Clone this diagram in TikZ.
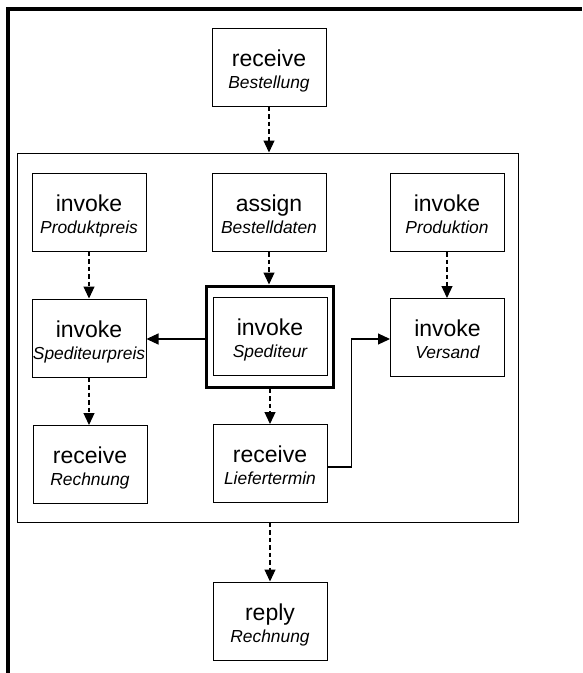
\documentclass[tikz,border=0pt]{standalone}
\usepackage{fontspec}
\setmainfont{Liberation Sans}
\usetikzlibrary{arrows.meta,calc}
\tikzset{
  pbox/.style={draw, line width=1pt, minimum width=114pt, minimum height=78pt, inner sep=0pt},
  maintxt/.style={anchor=base, inner sep=0pt, font=\fontsize{23}{26}\selectfont},
  subtxt/.style={anchor=base, inner sep=0pt, font=\fontsize{17.4}{20}\selectfont\itshape},
  thickbox/.style={draw, line width=3pt, minimum width=127pt, minimum height=101pt, inner sep=0pt},
  container/.style={draw, line width=1pt, inner sep=0pt},
  flow/.style={line width=1.2pt, dash pattern=on 4.5pt off 3pt, -{Triangle[length=12pt,width=11pt]}},
  link/.style={line width=1.2pt, -{Triangle[length=12pt,width=11pt]}},
}
\newcommand\bpbox[5]{%
  \node[pbox] (#1) at (#2,#3) {};
  \node[maintxt] (#1-a) at ($(#1.north)+(0,38.5)$) {#4};
  \node[subtxt] (#1-b) at ($(#1.north)+(0,60.5)$) {#5};}
\begin{document}
\begin{tikzpicture}[x=1pt,y=-1pt]
\useasboundingbox (0,0) rectangle (582,673);
% outer frame (top and left edges)
\draw[line width=4pt] (8,673) -- (8,8.8) -- (582,8.8);
% container
\node[container, minimum width=501pt, minimum height=369pt] (cont) at (267.5,337.5) {};
% boxes
\bpbox{recv}{269}{67}{receive}{Bestellung}
\bpbox{prodpreis}{89}{212}{invoke}{Produktpreis}
\bpbox{assign}{269}{212.5}{assign}{Bestelldaten}
\bpbox{produktion}{447}{212.5}{invoke}{Produktion}
\bpbox{spedpreis}{89}{338}{invoke}{Spediteurpreis}
\node[thickbox] (spedouter) at (270,336.5) {};
\bpbox{sped}{270}{336.5}{invoke}{Spediteur}
\bpbox{versand}{447.5}{337.5}{invoke}{Versand}
\bpbox{rechnung}{90}{464.5}{receive}{Rechnung}
\bpbox{liefer}{270}{463.5}{receive}{Liefertermin}
\bpbox{reply}{270}{621}{reply}{Rechnung}
% connectors
\draw[flow] (recv.south) -- (recv.south |- cont.north);
\draw[flow] (prodpreis.south) -- (spedpreis.north);
\draw[flow] (assign.south) -- (assign.south |- spedouter.north);
\draw[flow] (produktion.south) -- (produktion.south |- versand.north);
\draw[flow] (spedpreis.south) -- (spedpreis.south |- rechnung.north);
\draw[flow] (spedouter.south) -- (spedouter.south |- liefer.north);
\draw[flow] (reply.north |- cont.south) -- (reply.north);
\coordinate (sl) at ($(spedouter.west)+(0,2.5)$);
\draw[link] (sl) -- (sl -| spedpreis.east);
\coordinate (lf) at ($(liefer.east)+(0,3.5)$);
\coordinate (bend) at ($(lf)+(24,0)$);
\coordinate (vw) at ($(versand.west)+(0,1.5)$);
\draw[link] (lf) -- (bend) |- (vw);
\end{tikzpicture}
\end{document}
